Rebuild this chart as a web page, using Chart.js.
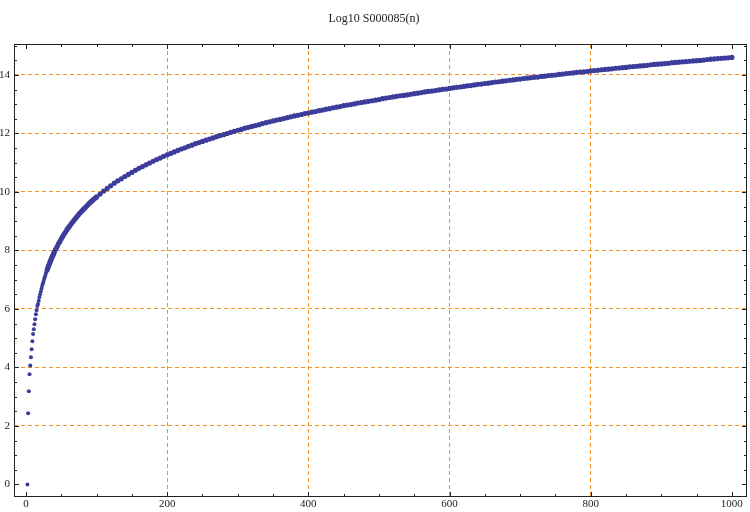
<!DOCTYPE html>
<html>
<head>
<meta charset="utf-8">
<script src="https://cdn.jsdelivr.net/npm/chart.js@4/dist/chart.umd.min.js"></script>
<style>
  html, body { margin: 0; padding: 0; background: #fff; }
  canvas { display: block; }
</style>
</head>
<body>
<canvas id="seqChart" width="750" height="512"></canvas>
<script>
// n values and log10 values
const nValues = [
  2, 3, 4, 5, 6, 7, 8, 9, 10, 11, 12, 13, 14, 15, 16, 17, 18, 19, 20,
  21, 22, 23, 24, 25, 26, 27, 28, 29, 30, 31, 32, 33, 34, 35, 36, 37, 38, 39, 40,
  42, 44, 46, 48, 50, 52, 54, 56, 58, 60, 62, 64, 66, 68, 70, 72, 74, 76, 78, 80,
  82, 84, 86, 88, 90, 92, 94, 96, 98, 100,
  105, 110, 115, 120, 125, 130, 135, 140, 145, 150, 155, 160, 165, 170, 175, 180, 185, 190, 195, 200,
  205, 210, 215, 220, 225, 230, 235, 240, 245, 250, 255, 260, 265, 270, 275, 280, 285, 290, 295, 300,
  305, 310, 315, 320, 325, 330, 335, 340, 345, 350, 355, 360, 365, 370, 375, 380, 385, 390, 395, 400,
  405, 410, 415, 420, 425, 430, 435, 440, 445, 450, 455, 460, 465, 470, 475, 480, 485, 490, 495, 500,
  505, 510, 515, 520, 525, 530, 535, 540, 545, 550, 555, 560, 565, 570, 575, 580, 585, 590, 595, 600,
  605, 610, 615, 620, 625, 630, 635, 640, 645, 650, 655, 660, 665, 670, 675, 680, 685, 690, 695, 700,
  705, 710, 715, 720, 725, 730, 735, 740, 745, 750, 755, 760, 765, 770, 775, 780, 785, 790, 795, 800,
  805, 810, 815, 820, 825, 830, 835, 840, 845, 850, 855, 860, 865, 870, 875, 880, 885, 890, 895, 900,
  905, 910, 915, 920, 925, 930, 935, 940, 945, 950, 955, 960, 965, 970, 975, 980, 985, 990, 995, 1000
];
const logValues = [
  0, 2.43, 3.19, 3.77, 4.07, 4.35, 4.62, 4.90, 5.14, 5.31, 5.48, 5.65, 5.82, 5.96, 6.10, 6.17, 6.28, 6.40, 6.50,
  6.60, 6.70, 6.79, 6.88, 6.96, 7.04, 7.12, 7.20, 7.27, 7.34, 7.41, 7.47, 7.54, 7.60, 7.66, 7.72, 7.78, 7.83, 7.88, 7.94,
  8.04, 8.13, 8.23, 8.31, 8.40, 8.48, 8.56, 8.63, 8.71, 8.78, 8.84, 8.91, 8.97, 9.03, 9.09, 9.15, 9.21, 9.27, 9.32, 9.37,
  9.42, 9.47, 9.52, 9.57, 9.62, 9.66, 9.71, 9.75, 9.79, 9.83,
  9.93, 10.03, 10.12, 10.21, 10.30, 10.38, 10.45, 10.53, 10.60, 10.67, 10.74, 10.81, 10.87, 10.93, 10.99, 11.05, 11.11, 11.16, 11.22, 11.27,
  11.32, 11.37, 11.42, 11.47, 11.51, 11.56, 11.60, 11.65, 11.69, 11.73, 11.77, 11.81, 11.85, 11.89, 11.93, 11.96, 12.00, 12.04, 12.07, 12.11,
  12.14, 12.18, 12.21, 12.24, 12.27, 12.30, 12.34, 12.37, 12.40, 12.43, 12.46, 12.48, 12.51, 12.54, 12.57, 12.60, 12.62, 12.65, 12.68, 12.70,
  12.73, 12.75, 12.78, 12.80, 12.83, 12.85, 12.88, 12.90, 12.92, 12.95, 12.97, 12.99, 13.01, 13.04, 13.06, 13.08, 13.10, 13.12, 13.14, 13.16,
  13.19, 13.21, 13.23, 13.25, 13.27, 13.29, 13.30, 13.32, 13.34, 13.36, 13.38, 13.40, 13.42, 13.44, 13.45, 13.47, 13.49, 13.51, 13.52, 13.54,
  13.56, 13.58, 13.59, 13.61, 13.63, 13.64, 13.66, 13.68, 13.69, 13.71, 13.72, 13.74, 13.76, 13.77, 13.79, 13.80, 13.82, 13.83, 13.85, 13.86,
  13.88, 13.89, 13.91, 13.92, 13.93, 13.95, 13.96, 13.98, 13.99, 14.00, 14.02, 14.03, 14.05, 14.06, 14.07, 14.09, 14.10, 14.11, 14.12, 14.14,
  14.15, 14.16, 14.18, 14.19, 14.20, 14.21, 14.23, 14.24, 14.25, 14.26, 14.28, 14.29, 14.30, 14.31, 14.32, 14.33, 14.35, 14.36, 14.37, 14.38,
  14.39, 14.40, 14.42, 14.43, 14.44, 14.45, 14.46, 14.47, 14.48, 14.49, 14.50, 14.51, 14.53, 14.54, 14.55, 14.56, 14.57, 14.58, 14.59, 14.60
];
const xTicks = [0, 200, 400, 600, 800, 1000];
const yTicks = [0, 2, 4, 6, 8, 10, 12, 14];
const chartTitle = "Log10 S000085(n)";

const points = nValues.map((n, i) => ({ x: n, y: logValues[i] }));

const gridOrange = "rgb(244,146,40)";
const serif = "'Liberation Serif', 'DejaVu Serif', serif";

// frame on all four sides with inward ticks, Mathematica style
const frameTicks = {
  id: "frameTicks",
  afterDraw(chart) {
    const { ctx, chartArea: a, scales: { x, y } } = chart;
    const L = Math.round(a.left) + 0.5, R = Math.round(a.right) - 0.5;
    const T = Math.round(a.top) + 0.5, B = Math.round(a.bottom) - 0.5;
    ctx.save();
    ctx.strokeStyle = "#222";
    ctx.lineWidth = 1;
    ctx.beginPath();
    for (let v = 0; v <= 1000; v += 50) {
      const px = Math.round(x.getPixelForValue(v)) + 0.5;
      const len = v % 200 === 0 ? 4.5 : 2.5;
      ctx.moveTo(px, B); ctx.lineTo(px, B - len);
      ctx.moveTo(px, T); ctx.lineTo(px, T + len);
    }
    for (let v = 0; v <= 15; v += 0.5) {
      const py = Math.round(y.getPixelForValue(v)) + 0.5;
      if (py < T) continue;
      const len = v % 2 === 0 ? 4.5 : 2.5;
      ctx.moveTo(L, py); ctx.lineTo(L + len, py);
      ctx.moveTo(R, py); ctx.lineTo(R - len, py);
    }
    ctx.stroke();
    ctx.strokeRect(L, T, R - L, B - T);
    ctx.restore();
  }
};

const gridColor = (edgeValues) => (c) =>
  c.tick && edgeValues.includes(c.tick.value) ? "rgba(0,0,0,0)" : gridOrange;

new Chart(document.getElementById("seqChart"), {
  type: "scatter",
  data: {
    datasets: [{
      label: chartTitle,
      data: points,
      backgroundColor: "rgb(60,60,155)",
      borderWidth: 0,
      pointRadius: (c) => (c.raw && c.raw.x < 30 ? 2.0 : 2.6),
      pointHoverRadius: 2.6
    }]
  },
  options: {
    responsive: false,
    animation: false,
    devicePixelRatio: 1,
    layout: { padding: { right: 2 } },
    plugins: {
      legend: { display: false },
      tooltip: { enabled: false },
      title: {
        display: true,
        text: chartTitle,
        color: "#222",
        font: { family: serif, size: 12, weight: "normal" },
        padding: { top: 12, bottom: 17.6 }
      }
    },
    scales: {
      x: {
        type: "linear",
        min: -17,
        max: 1022,
        afterBuildTicks: (s) => { s.ticks = xTicks.map(v => ({ value: v })); },
        afterFit: (s) => { s.height = 15; },
        ticks: {
          color: "#222",
          padding: 1,
          maxRotation: 0,
          font: { family: serif, size: 11 },
          callback: (v) => String(v)
        },
        grid: { color: gridColor([0, 1000]), lineWidth: 1, drawTicks: false },
        border: { display: false, dash: [4, 3] }
      },
      y: {
        type: "linear",
        min: -0.43,
        max: 15.06,
        afterBuildTicks: (s) => { s.ticks = yTicks.map(v => ({ value: v })); },
        afterFit: (s) => { s.width = 14; },
        ticks: {
          color: "#222",
          padding: 4,
          font: { family: serif, size: 11 },
          callback: (v) => String(v)
        },
        grid: { color: gridColor([0]), lineWidth: 1, drawTicks: false },
        border: { display: false, dash: [4, 3] }
      }
    }
  },
  plugins: [frameTicks]
});
</script>
</body>
</html>
